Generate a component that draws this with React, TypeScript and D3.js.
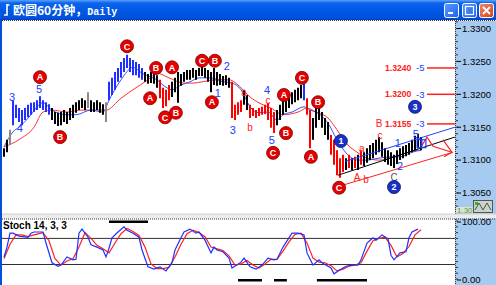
import React from 'react';
import * as d3 from 'd3';

// ---- price bars (EUR/JPY 60 min) ----
const highs = [
  1.3118, 1.3131, 1.3146, 1.3191, 1.3184, 1.3179, 1.3176, 1.3179, 1.3184, 1.3187,
  1.3188, 1.3191, 1.3197, 1.3191, 1.3188, 1.3185, 1.3179, 1.3173, 1.3172, 1.3173,
  1.3176, 1.3173, 1.3179, 1.3184, 1.3188, 1.3191, 1.3194, 1.3191, 1.3203, 1.3191,
  1.3188, 1.3191, 1.3188, 1.3185, 1.3188, 1.3219, 1.3225, 1.3234, 1.3240, 1.3249,
  1.3255, 1.3260, 1.3255, 1.3252, 1.3249, 1.3246, 1.3240, 1.3234, 1.3231, 1.3234,
  1.3232, 1.3229, 1.3222, 1.3210, 1.3207, 1.3214, 1.3219, 1.3225, 1.3234, 1.3231,
  1.3234, 1.3237, 1.3237, 1.3240, 1.3237, 1.3240, 1.3243, 1.3240, 1.3237, 1.3234,
  1.3240, 1.3234, 1.3231, 1.3228, 1.3229, 1.3225, 1.3219, 1.3184, 1.3188, 1.3191,
  1.3207, 1.3199, 1.3184, 1.3179, 1.3176, 1.3179, 1.3181, 1.3184, 1.3187, 1.3179,
  1.3173, 1.3176, 1.3184, 1.3191, 1.3194, 1.3199, 1.3203, 1.3207, 1.3210, 1.3214,
  1.3216, 1.3194, 1.3176, 1.3164, 1.3179, 1.3184, 1.3173, 1.3164, 1.3158, 1.3138,
  1.3131, 1.3115, 1.3103, 1.3108, 1.3103, 1.3108, 1.3103, 1.3105, 1.3108, 1.3115,
  1.3112, 1.3118, 1.3123, 1.3126, 1.3131, 1.3135, 1.3127, 1.3118, 1.3115, 1.3112,
  1.3108, 1.3115, 1.3118, 1.3121, 1.3123, 1.3126, 1.3131, 1.3137, 1.3140, 1.3135,
];
const lows = [
  1.3105, 1.3112, 1.3123, 1.3153, 1.3164, 1.3158, 1.3153, 1.3161, 1.3165, 1.3169,
  1.3173, 1.3176, 1.3179, 1.3176, 1.3173, 1.3169, 1.3161, 1.3155, 1.3152, 1.3153,
  1.3158, 1.3155, 1.3161, 1.3164, 1.3172, 1.3176, 1.3179, 1.3176, 1.3179, 1.3173,
  1.3173, 1.3176, 1.3172, 1.3169, 1.3158, 1.3191, 1.3199, 1.3207, 1.3219, 1.3225,
  1.3234, 1.3240, 1.3234, 1.3229, 1.3229, 1.3225, 1.3222, 1.3219, 1.3216, 1.3217,
  1.3216, 1.3210, 1.3194, 1.3179, 1.3182, 1.3191, 1.3196, 1.3203, 1.3187, 1.3213,
  1.3219, 1.3222, 1.3222, 1.3225, 1.3222, 1.3228, 1.3228, 1.3225, 1.3219, 1.3203,
  1.3214, 1.3213, 1.3214, 1.3213, 1.3214, 1.3210, 1.3164, 1.3161, 1.3169, 1.3173,
  1.3184, 1.3176, 1.3164, 1.3167, 1.3164, 1.3167, 1.3169, 1.3170, 1.3161, 1.3149,
  1.3141, 1.3153, 1.3161, 1.3169, 1.3173, 1.3179, 1.3185, 1.3188, 1.3191, 1.3194,
  1.3191, 1.3169, 1.3118, 1.3131, 1.3149, 1.3161, 1.3149, 1.3138, 1.3131, 1.3108,
  1.3093, 1.3077, 1.3073, 1.3082, 1.3085, 1.3088, 1.3085, 1.3088, 1.3085, 1.3093,
  1.3091, 1.3096, 1.3100, 1.3103, 1.3108, 1.3112, 1.3105, 1.3097, 1.3093, 1.3091,
  1.3088, 1.3094, 1.3100, 1.3103, 1.3106, 1.3108, 1.3112, 1.3115, 1.3118, 1.3115,
];
// wave type runs: u = impulse up, d = down, n = neutral, g = gray
const waveRuns: [number, string][] = [
  [2, 'n'], [1, 'g'], [13, 'u'], [12, 'n'], [1, 'g'], [5, 'n'], [1, 'g'], [12, 'u'], [5, 'n'],
  [4, 'd'], [20, 'n'], [4, 'd'], [2, 'n'], [9, 'd'], [9, 'n'], [1, 'u'], [2, 'd'], [6, 'n'],
  [5, 'd'], [1, 'n'], [1, 'd'], [1, 'n'], [1, 'd'], [1, 'n'], [1, 'd'], [20, 'n'],
];

// ---- moving averages ----
const maFastIdx = [0, 3, 5, 9, 11, 13, 16, 21, 24, 29, 33, 35, 39, 43, 46, 49, 51, 53, 56, 59, 62, 65, 69, 73, 76, 79, 82, 85, 88, 91, 93, 96, 100, 102, 104, 108, 111, 114, 118, 121, 125, 129, 132, 136, 139];
const maFastVal = [1.3120, 1.3143, 1.3150, 1.3169, 1.3181, 1.3187, 1.3176, 1.3169, 1.3169, 1.3176, 1.3173, 1.3191, 1.3222, 1.3241, 1.3232, 1.3226, 1.3222, 1.3214, 1.3207, 1.3214, 1.3219, 1.3225, 1.3225, 1.3219, 1.3217, 1.3207, 1.3181, 1.3172, 1.3173, 1.3161, 1.3169, 1.3173, 1.3181, 1.3176, 1.3173, 1.3156, 1.3131, 1.3111, 1.3100, 1.3100, 1.3103, 1.3105, 1.3105, 1.3112, 1.3115];
const maSlowIdx = [0, 5, 10, 13, 16, 21, 26, 32, 34, 39, 43, 48, 51, 55, 60, 63, 66, 71, 75, 79, 82, 85, 89, 93, 98, 101, 104, 108, 111, 114, 118, 121, 125, 130, 134, 138];
const maSlowVal = [1.3120, 1.3131, 1.3150, 1.3173, 1.3176, 1.3173, 1.3176, 1.3176, 1.3176, 1.3194, 1.3207, 1.3222, 1.3232, 1.3225, 1.3217, 1.3217, 1.3219, 1.3222, 1.3222, 1.3210, 1.3196, 1.3187, 1.3179, 1.3169, 1.3173, 1.3179, 1.3173, 1.3164, 1.3146, 1.3126, 1.3111, 1.3103, 1.3100, 1.3105, 1.3111, 1.3115];

// ---- stochastic 14,3,3 ----
const stochKIdx = [0, 1, 2, 3, 5, 8, 9, 10, 13, 14, 16, 18, 19, 21, 23, 24, 25, 26, 28, 29, 31, 33, 34, 35, 36, 38, 40, 41, 43, 45, 46, 48, 50, 52, 54, 56, 57, 59, 60, 62, 64, 65, 67, 69, 70, 71, 73, 75, 76, 79, 80, 82, 84, 86, 88, 90, 91, 93, 95, 96, 98, 100, 101, 103, 105, 106, 109, 110, 112, 114, 116, 118, 119, 121, 123, 124, 126, 128, 129, 130, 132, 134, 135, 136, 138];
const stochKVal = [38, 55, 79, 79, 74, 72, 79, 81, 81, 62, 28, 22, 24, 38, 33, 34, 79, 86, 72, 59, 55, 50, 38, 53, 71, 81, 90, 84, 79, 72, 50, 21, 17, 21, 14, 28, 50, 71, 81, 86, 79, 81, 67, 45, 55, 50, 47, 36, 19, 29, 36, 21, 17, 24, 36, 33, 34, 55, 71, 79, 79, 76, 45, 24, 33, 28, 19, 9, 16, 22, 24, 24, 33, 62, 71, 67, 76, 69, 41, 33, 45, 47, 71, 81, 86];
const stochDIdx = [0, 2, 4, 6, 8, 10, 13, 15, 17, 19, 21, 23, 25, 27, 29, 31, 33, 35, 37, 39, 41, 43, 45, 47, 49, 51, 53, 55, 57, 59, 61, 63, 65, 67, 69, 71, 73, 75, 77, 79, 81, 83, 85, 87, 89, 91, 93, 95, 97, 99, 101, 103, 105, 107, 109, 111, 113, 115, 117, 119, 121, 123, 125, 127, 129, 131, 133, 135, 137, 139];
const stochDVal = [35, 60, 76, 76, 73, 76, 80, 66, 35, 24, 31, 35, 55, 80, 70, 58, 52, 45, 62, 78, 87, 82, 75, 55, 26, 18, 18, 20, 38, 60, 78, 84, 80, 73, 55, 52, 49, 40, 24, 26, 32, 24, 19, 26, 34, 34, 48, 64, 77, 79, 62, 36, 29, 28, 23, 14, 17, 22, 24, 28, 48, 66, 70, 72, 58, 38, 44, 56, 76, 85];
const stochLevels = [70, 25];
const stochTopMarks: [number, number][] = [[35, 48]];
const stochBottomMarks: [number, number][] = [[78, 86], [90, 94.3], [104.3, 121]];

// ---- axes ----
const priceTicks = [1.33, 1.325, 1.32, 1.315, 1.31, 1.305];
const stochTicks = [100, 0];

// ---- Elliott wave annotations ----
const circleLabels = [
  { t: 'A', i: 12, p: 1.3226, c: 'r' }, { t: 'B', i: 18.7, p: 1.3135, c: 'r' },
  { t: 'C', i: 41, p: 1.3273, c: 'r' }, { t: 'B', i: 50.7, p: 1.3240, c: 'r' },
  { t: 'A', i: 48.7, p: 1.3194, c: 'r' }, { t: 'C', i: 53.7, p: 1.3165, c: 'r' },
  { t: 'B', i: 57.3, p: 1.3172, c: 'r' }, { t: 'A', i: 56, p: 1.3241, c: 'r' },
  { t: 'C', i: 66, p: 1.3251, c: 'r' }, { t: 'B', i: 70.3, p: 1.3251, c: 'r' },
  { t: 'A', i: 69.3, p: 1.3188, c: 'r' }, { t: 'A', i: 93.3, p: 1.3199, c: 'r' },
  { t: 'B', i: 94, p: 1.3141, c: 'r' }, { t: 'C', i: 89.7, p: 1.3111, c: 'r' },
  { t: 'C', i: 99.3, p: 1.3225, c: 'r' }, { t: 'B', i: 104.7, p: 1.3188, c: 'r' },
  { t: 'A', i: 102.3, p: 1.3105, c: 'r' }, { t: 'C', i: 111.7, p: 1.3058, c: 'r' },
  { t: '1', i: 112.3, p: 1.3129, c: 'b' }, { t: '2', i: 130, p: 1.3059, c: 'b' },
  { t: '3', i: 137, p: 1.3181, c: 'b' },
];
const waveNumbers = [
  { t: '3', i: 2.7, p: 1.3196 }, { t: '4', i: 5.3, p: 1.3149 }, { t: '5', i: 11.7, p: 1.3208 },
  { t: '2', i: 74.3, p: 1.3243 }, { t: '1', i: 71.3, p: 1.3202 }, { t: '3', i: 76.3, p: 1.3146 },
  { t: '4', i: 87.7, p: 1.3207 }, { t: '5', i: 89.3, p: 1.3131 }, { t: '1', i: 131.3, p: 1.3126 },
  { t: '2', i: 132, p: 1.3091 }, { t: '5', i: 137.3, p: 1.3139 },
];
const subLetters = [
  { t: 'a', i: 80, p: 1.3203 }, { t: 'b', i: 82, p: 1.3150 }, { t: 'c', i: 88, p: 1.3191 },
  { t: 'a', i: 119.3, p: 1.3118 }, { t: 'A', i: 117.7, p: 1.3073 }, { t: 'b', i: 120.7, p: 1.3071 },
  { t: 'c', i: 125.3, p: 1.3138 }, { t: 'B', i: 125, p: 1.3156 },
];
const grayLetters = [{ t: 'C', i: 130, p: 1.3074 }];
const targetPrices = [1.3240, 1.3200, 1.3155];
const targetTags = ['-5', '-3', '-3'];
const channelBlue: [number, number][] = [[113.7, 1.3098], [150.3, 1.3150]];
const channelBlack: [number, number][] = [[111.3, 1.3077], [150.3, 1.3135]];
const channelRed: [number, number][] = [[113, 1.3062], [149.7, 1.3112]];
const arrowPath: [number, number][] = [[139, 1.3120], [141, 1.3135], [143, 1.3121], [149.3, 1.3112]];
const arrowBarbs: [number, number][][] = [[[146.3, 1.3131], [149.3, 1.3112]], [[146.7, 1.3105], [149.3, 1.3112]]];

const BAR_COLORS: Record<string, string> = { u: '#2230ff', d: '#ff0000', n: '#000000', g: '#8a8a8a' };
const FONT = '"Liberation Sans", Arial, sans-serif';

export default function App() {
  const W = 496, H = 285;
  const AXIS_X = 455;
  const x = d3.scaleLinear().domain([0, 139]).range([4, 421]);
  const y = d3.scaleLinear().domain([1.305, 1.33]).range([193, 28.5]);
  const ys = d3.scaleLinear().domain([0, 100]).range([279, 221]);
  const waves = waveRuns.flatMap(([n, w]) => Array(n).fill(w));

  const smooth = (idx: number[], vals: number[], sc: (v: number) => number, curve: any) =>
    d3.line<number>().x((_, k) => x(idx[k])).y((v) => sc(v)).curve(curve)(vals) || '';
  const seg = (pts: [number, number][]) =>
    d3.line<[number, number]>().x((d) => x(d[0])).y((d) => y(d[1]))(pts) || '';

  const minorPrice = d3.range(1.302, 1.3315, 0.001);
  const minorStoch = d3.range(0, 101, 10);

  return (
    <svg width={W} height={H} style={{ position: 'fixed', left: 0, top: 0 }} fontFamily={FONT}>
      <defs>
        <linearGradient id="tb" x1="0" y1="0" x2="0" y2="1">
          <stop offset="0" stopColor="#5aa2ff" />
          <stop offset="0.15" stopColor="#0c64ee" />
          <stop offset="0.55" stopColor="#0058e4" />
          <stop offset="0.9" stopColor="#0050dc" />
          <stop offset="1" stopColor="#003fbf" />
        </linearGradient>
        <linearGradient id="btn" x1="0" y1="0" x2="1" y2="1">
          <stop offset="0" stopColor="#5c9cff" />
          <stop offset="1" stopColor="#2060e8" />
        </linearGradient>
        <linearGradient id="cls" x1="0" y1="0" x2="1" y2="1">
          <stop offset="0" stopColor="#f08a6a" />
          <stop offset="1" stopColor="#d8401c" />
        </linearGradient>
        <clipPath id="main"><rect x={2} y={21} width={AXIS_X - 2} height={192} /></clipPath>
        <clipPath id="sto"><rect x={2} y={219} width={AXIS_X - 2} height={66} /></clipPath>
      </defs>

      <rect x={0} y={0} width={W} height={H} fill="#ffffff" />

      {/* title bar */}
      <rect x={0} y={0} width={W} height={20} fill="url(#tb)" />
      <path d="M7,4 L7,15 L4,15 M7,5 L9.5,5" stroke="#ffffff" strokeWidth={1.6} fill="none" />
      <text x={13} y={15} fill="#ffffff" fontWeight="bold">
        <tspan fontFamily='"Noto Sans CJK SC", sans-serif' fontSize={12}>欧圆60分钟，</tspan>
        <tspan fontFamily='"Liberation Mono", "DejaVu Sans Mono", monospace' fontSize={10}>Daily</tspan>
      </text>
      <rect x={444.5} y={3.5} width={14} height={14} rx={2} fill="url(#btn)" stroke="#ffffff" />
      <rect x={448} y={12} width={5} height={2} fill="#ffffff" />
      <rect x={462.5} y={3.5} width={14} height={14} rx={2} fill="url(#btn)" stroke="#ffffff" />
      <rect x={465.5} y={6.5} width={8} height={8} fill="none" stroke="#ffffff" strokeWidth={1.2} />
      <rect x={479.5} y={3.5} width={14} height={14} rx={2} fill="url(#cls)" stroke="#ffffff" />
      <path d="M483,7 L490,14 M490,7 L483,14" stroke="#ffffff" strokeWidth={1.8} />

      {/* left border */}
      <rect x={0} y={20} width={2} height={H - 20} fill="#0050dc" />

      {/* right axis panel */}
      <rect x={AXIS_X} y={21} width={W - AXIS_X} height={H - 21} fill="#a6caf0" />
      <line x1={2} x2={W} y1={20.5} y2={20.5} stroke="#333" strokeDasharray="1,1" />
      <line x1={AXIS_X + 0.5} x2={AXIS_X + 0.5} y1={21} y2={H} stroke="#333" strokeDasharray="1,1" />

      {/* main chart */}
      <g clipPath="url(#main)">
        <path d={smooth(maSlowIdx, maSlowVal, y, d3.curveMonotoneX)} fill="none" stroke="#ff3030" strokeWidth={1} />
        <path d={smooth(maFastIdx, maFastVal, y, d3.curveMonotoneX)} fill="none" stroke="#3050ff" strokeWidth={1} />
        {highs.map((h, i) => (
          <line key={i} x1={x(i)} x2={x(i)} y1={y(h)} y2={y(lows[i])} stroke={BAR_COLORS[waves[i]]} strokeWidth={2} />
        ))}

        <path d={seg(channelBlue)} stroke="#2040ff" strokeWidth={1} fill="none" />
        <path d={seg(channelBlack)} stroke="#000000" strokeWidth={1} fill="none" />
        <path d={seg(channelRed)} stroke="#ff2020" strokeWidth={1} fill="none" />
        <path d={seg(arrowPath)} stroke="#ff2020" strokeWidth={1.2} fill="none" />
        {arrowBarbs.map((b, k) => <path key={k} d={seg(b)} stroke="#ff2020" strokeWidth={1.2} fill="none" />)}
        <rect x={x(137.7)} y={y(1.3131)} width={4} height={8} fill="none" stroke="#2040ff" strokeWidth={1.2} />
        <rect x={x(139.3)} y={y(1.3131)} width={4} height={8} fill="none" stroke="#2040ff" strokeWidth={1.2} />

        {targetPrices.map((p, k) => (
          <g key={k}>
            <line x1={427} x2={AXIS_X} y1={y(p)} y2={y(p)} stroke="#ff2020" strokeWidth={1.5} />
            <text x={385} y={y(p)} dy="0.35em" fill="#ff2020" fontWeight="bold" fontSize={8.6}>{p.toFixed(4)}</text>
            <text x={416} y={y(p)} dy="0.35em" fill="#2040ff" fontSize={9.5}>{targetTags[k]}</text>
          </g>
        ))}

        {waveNumbers.map((d, k) => (
          <text key={k} x={x(d.i)} y={y(d.p)} dy="0.35em" textAnchor="middle" fill="#2040ff" fontSize={11}>{d.t}</text>
        ))}
        {subLetters.map((d, k) => (
          <text key={k} x={x(d.i)} y={y(d.p)} dy="0.35em" textAnchor="middle" fill="#ff2020" fontSize={10}>{d.t}</text>
        ))}
        {grayLetters.map((d, k) => (
          <text key={k} x={x(d.i)} y={y(d.p)} dy="0.35em" textAnchor="middle" fill="#555" fontSize={10}>{d.t}</text>
        ))}
        {circleLabels.map((d, k) => (
          <g key={k} transform={`translate(${x(d.i)},${y(d.p)})`}>
            <circle r={6.5} fill={d.c === 'r' ? '#e60000' : '#1830c8'} stroke={d.c === 'r' ? '#7a0000' : '#0a1470'} strokeWidth={0.8} />
            <text dy="0.36em" textAnchor="middle" fill="#ffffff" fontWeight="bold" fontSize={9}>{d.t}</text>
          </g>
        ))}
      </g>

      {/* price axis */}
      {minorPrice.map((p, k) => (
        <line key={k} x1={AXIS_X + 1} x2={AXIS_X + 3} y1={y(p)} y2={y(p)} stroke="#333" />
      ))}
      {priceTicks.map((p) => (
        <g key={p}>
          <line x1={AXIS_X + 2} x2={AXIS_X + 6} y1={y(p)} y2={y(p)} stroke="#000" />
          <text x={AXIS_X + 7} y={y(p)} dy="0.35em" fontSize={9.5} fill="#000">{p.toFixed(4)}</text>
        </g>
      ))}
      <rect x={456} y={207} width={17} height={6} fill="#d6e8cc" />
      <text x={457} y={213} fontSize={8} fill="#6a8a60">1.30</text>
      <rect x={473.5} y={200.5} width={19} height={12} fill="#c8d4c8" stroke="#555" />
      <path d="M475,210 L479,203 L483,210 L487,203 L491,210" stroke="#333" fill="none" strokeWidth={0.8} />
      <rect x={475} y={202} width={3} height={3} fill="#20c020" />

      {/* stochastic panel */}
      {stochTicks.map((v) => (
        <g key={v}>
          <line x1={AXIS_X + 2} x2={AXIS_X + 6} y1={ys(v) + 1} y2={ys(v) + 1} stroke="#000" />
          <text x={AXIS_X + 7} y={ys(v) + 1} dy="0.35em" fontSize={9.5} fill="#000">{v.toFixed(2)}</text>
        </g>
      ))}
      {minorStoch.map((v) => (
        <line key={v} x1={AXIS_X + 1} x2={AXIS_X + 3} y1={ys(v)} y2={ys(v)} stroke="#333" />
      ))}
      <g clipPath="url(#sto)">
        {stochLevels.map((v) => (
          <line key={v} x1={2} x2={AXIS_X} y1={ys(v)} y2={ys(v)} stroke="#303030" strokeWidth={1} />
        ))}
        {stochTopMarks.map(([a, b], k) => (
          <rect key={k} x={x(a)} width={x(b) - x(a)} y={ys(100) - 0.5} height={2.5} fill="#000" />
        ))}
        {stochBottomMarks.map(([a, b], k) => (
          <rect key={k} x={x(a)} width={x(b) - x(a)} y={ys(0)} height={2.5} fill="#000" />
        ))}
        <path d={smooth(stochDIdx, stochDVal, ys, d3.curveLinear)} fill="none" stroke="#ff2020" strokeWidth={1.2} />
        <path d={smooth(stochKIdx, stochKVal, ys, d3.curveLinear)} fill="none" stroke="#2030ff" strokeWidth={1.2} />
      </g>
      <text x={3} y={229} fontSize={10} fontWeight="bold" fill="#000">Stoch 14, 3, 3</text>

      {/* separator between panels */}
      <rect x={2} y={214} width={W - 2} height={4.5} fill="#ececec" />
      <line x1={2} x2={W} y1={214} y2={214} stroke="#d0d0d0" />
      <line x1={2} x2={W} y1={219} y2={219} stroke="#333" strokeDasharray="1,1" />
    </svg>
  );
}
